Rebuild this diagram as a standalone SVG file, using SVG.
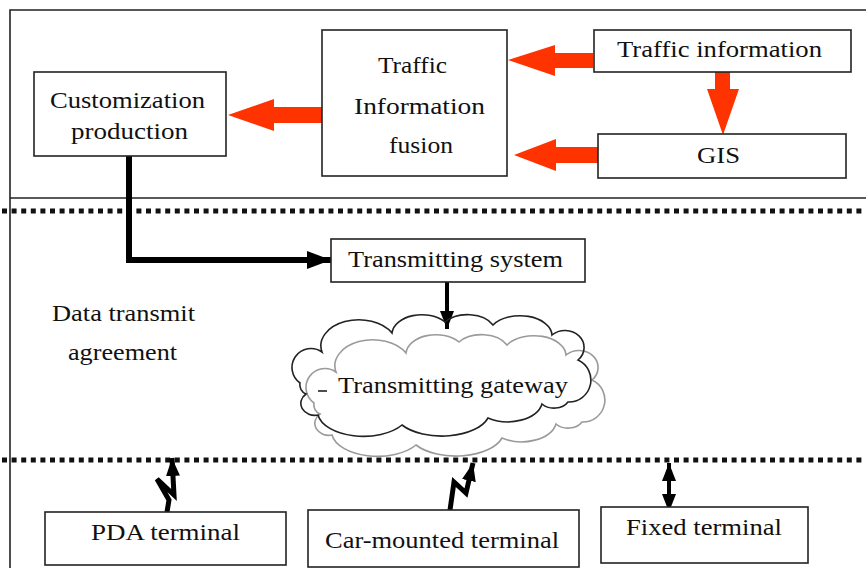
<svg xmlns="http://www.w3.org/2000/svg" width="866" height="568" viewBox="0 0 866 568">
<style>
  .box { fill: #fff; stroke: #222; stroke-width: 1.6; }
  .t { font-family: "Liberation Serif", "Times New Roman", serif; font-size: 24px; fill: #111; text-anchor: start; }
  .frame { stroke: #222; stroke-width: 1.6; fill: none; }
  .dots { stroke: #111; stroke-width: 5; stroke-dasharray: 5 4.6; fill: none; }
  .red { fill: #ff3300; stroke: none; }
  .blk { stroke: #000; fill: none; }
  .cloudB { fill: none; stroke: #222; stroke-width: 1.6; }
  .cloudG { fill: none; stroke: #9a9a9a; stroke-width: 1.6; }
</style>
<defs>
  <marker id="ah" markerUnits="userSpaceOnUse" markerWidth="26" markerHeight="18" refX="24" refY="9" orient="auto">
    <path d="M0,0 L24,9 L0,18 Z" fill="#000"/>
  </marker>
  <marker id="ahs" markerUnits="userSpaceOnUse" markerWidth="20" markerHeight="14" refX="18" refY="7" orient="auto-start-reverse">
    <path d="M0,0 L18,7 L0,14 Z" fill="#000"/>
  </marker>
  <path id="cloud" d="M300,383 A19,19 0 0 1 322,352 A38,26 0 0 1 392,333 A30,20 0 0 1 445,322 A28,18 0 0 1 493,325 A32,20 0 0 1 552,335 A19,17 0 0 1 578,360 A22,22 0 0 1 568,402 A16,12 0 0 1 542,404 A35,22 0 0 1 488,418 A48,25 0 0 1 402,425 A46,25 0 0 1 318,415 A14,12 0 0 1 306,394 A10,10 0 0 1 300,383 Z"/>
</defs>

<g id="frame">
  <path class="frame" d="M10,568 V10 H866"/>
  <line class="frame" x1="10" y1="198" x2="866" y2="198"/>
  <line class="dots" x1="2" y1="211" x2="866" y2="211"/>
  <line class="dots" x1="2" y1="460" x2="866" y2="460"/>
</g>

<g id="connectors">
  <polygon class="red" points="593,53 555,53 555,45 508,60 555,76 555,68 593,68"/>
  <polygon class="red" points="598,147 556,147 556,139 514,155 556,171 556,163 598,163"/>
  <polygon class="red" points="322,107 274,107 274,99 228,115 274,131 274,123 322,123"/>
  <polygon class="red" points="715,72 715,89 707,89 723,135 739,89 730,89 730,72"/>
  <path class="blk" stroke-width="6" d="M129,156 V260 H331" marker-end="url(#ah)"/>
  <path class="blk" stroke-width="4" d="M447,282 V329" marker-end="url(#ahs)"/>
  <polyline class="blk" stroke-width="5" stroke-linejoin="miter" points="167,512 169,500 157,479 174,495 172,458" marker-end="url(#ahs)"/>
  <polyline class="blk" stroke-width="5" stroke-linejoin="miter" points="450,510 454,482 466,493 473,463" marker-end="url(#ahs)"/>
  <path class="blk" stroke-width="4" d="M669,463 V512" marker-start="url(#ahs)" marker-end="url(#ahs)"/>
</g>

<g id="traffic-information">
  <rect class="box" x="594" y="30" width="257" height="42"/>
  <text class="t" x="617" y="57" textLength="205" lengthAdjust="spacingAndGlyphs">Traffic information</text>
</g>

<g id="gis">
  <rect class="box" x="598" y="134" width="248" height="44"/>
  <text class="t" x="697" y="163" textLength="43" lengthAdjust="spacingAndGlyphs">GIS</text>
</g>

<g id="fusion">
  <rect class="box" x="322" y="30" width="185" height="146"/>
  <text class="t" x="378" y="73" textLength="69" lengthAdjust="spacingAndGlyphs">Traffic</text>
  <text class="t" x="354" y="114" textLength="131" lengthAdjust="spacingAndGlyphs">Information</text>
  <text class="t" x="389" y="153" textLength="64" lengthAdjust="spacingAndGlyphs">fusion</text>
</g>

<g id="customization">
  <rect class="box" x="34" y="72" width="192" height="84"/>
  <text class="t" x="50" y="108" textLength="155" lengthAdjust="spacingAndGlyphs">Customization</text>
  <text class="t" x="71" y="139" textLength="117" lengthAdjust="spacingAndGlyphs">production</text>
</g>

<g id="transmitting-system">
  <rect class="box" x="331" y="239" width="254" height="43"/>
  <text class="t" x="348" y="267" textLength="215" lengthAdjust="spacingAndGlyphs">Transmitting system</text>
</g>

<g id="data-transmit-agreement">
  <text class="t" x="52" y="321" textLength="143" lengthAdjust="spacingAndGlyphs">Data transmit</text>
  <text class="t" x="68" y="360" textLength="109" lengthAdjust="spacingAndGlyphs">agreement</text>
</g>

<g id="transmitting-gateway">
  <use href="#cloud" class="cloudG" transform="translate(14,20)"/>
  <use href="#cloud" class="cloudB"/>
  <line x1="318" y1="391" x2="327" y2="391" stroke="#222" stroke-width="1.6"/>
  <text class="t" x="338" y="393" textLength="230" lengthAdjust="spacingAndGlyphs">Transmitting gateway</text>
</g>

<g id="pda-terminal">
  <rect class="box" x="45" y="512" width="241" height="53"/>
  <text class="t" x="91" y="540" textLength="149" lengthAdjust="spacingAndGlyphs">PDA terminal</text>
</g>

<g id="car-mounted-terminal">
  <rect class="box" x="308" y="510" width="271" height="57"/>
  <text class="t" x="325" y="548" textLength="234" lengthAdjust="spacingAndGlyphs">Car-mounted terminal</text>
</g>

<g id="fixed-terminal">
  <rect class="box" x="601" y="507" width="207" height="56"/>
  <text class="t" x="626" y="535" textLength="156" lengthAdjust="spacingAndGlyphs">Fixed terminal</text>
</g>
</svg>
